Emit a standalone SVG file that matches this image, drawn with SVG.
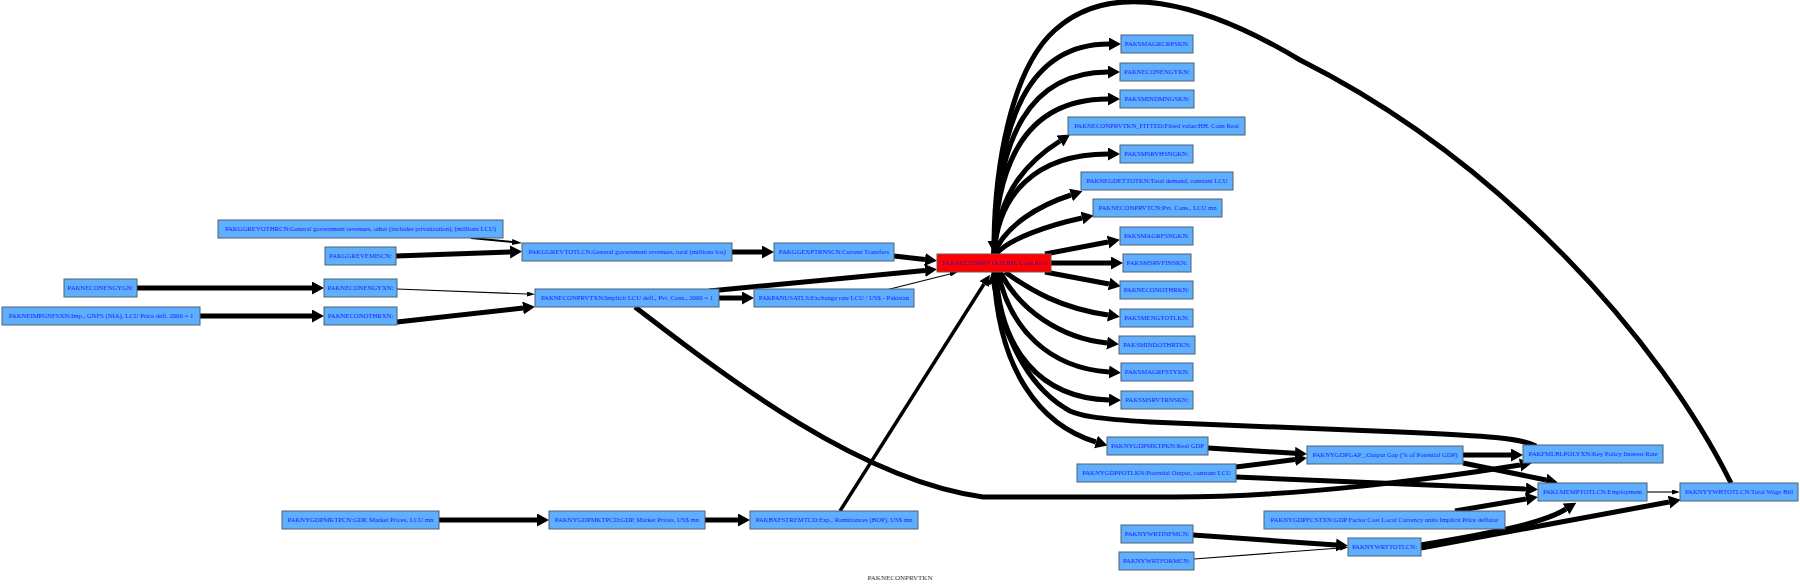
<svg xmlns="http://www.w3.org/2000/svg" width="1800" height="585" viewBox="0 0 1800 585">
<style>
.n rect{fill:#5fafff;stroke:#4f6070;stroke-width:1}
.hub rect{fill:#ff0000;stroke:#6a5a5a;stroke-width:1}
.n text,.hub text{font-family:"Liberation Serif","Times New Roman",serif;font-size:6.7px;fill:#1a1aff;text-anchor:middle}
.hub text{fill:#3a1ab0}
.e path{fill:none;stroke:#000;stroke-linecap:butt}
.k{stroke-width:5}
.m{stroke-width:2}
.b{stroke-width:3.5}
.t{stroke-width:1.1}
.lbl{font-family:"Liberation Serif","Times New Roman",serif;font-size:7px;fill:#333;text-anchor:middle}
</style>
<defs>
<marker id="ah" markerUnits="userSpaceOnUse" markerWidth="14" markerHeight="14" refX="0" refY="6.5" orient="auto"><path d="M0,0 L12,6.5 L0,13 z" fill="#000"/></marker>
<marker id="ab" markerUnits="userSpaceOnUse" markerWidth="13" markerHeight="12" refX="0" refY="5.5" orient="auto"><path d="M0,0 L11,5.5 L0,11 z" fill="#000"/></marker>
<marker id="am" markerUnits="userSpaceOnUse" markerWidth="12" markerHeight="8" refX="0" refY="3" orient="auto"><path d="M0,0 L10,3 L0,6 z" fill="#000"/></marker>
<marker id="at" markerUnits="userSpaceOnUse" markerWidth="10" markerHeight="7" refX="0" refY="2.5" orient="auto"><path d="M0,0 L8,2.5 L0,5 z" fill="#000"/></marker>
</defs>
<rect width="1800" height="585" fill="#fff"/>
<g id="edges" class="e">
<path class="m" d="M471,238 L512,242" marker-end="url(#am)"/>
<path class="k" d="M396,256 L510,252" marker-end="url(#ah)"/>
<path class="k" d="M137,288 L312,288" marker-end="url(#ah)"/>
<path class="t" d="M397,289 L527,294" marker-end="url(#at)"/>
<path class="k" d="M200,316 L312,316" marker-end="url(#ah)"/>
<path class="k" d="M397,322 L523,308" marker-end="url(#ah)"/>
<path class="k" d="M732,252 L762,252" marker-end="url(#ah)"/>
<path class="k" d="M894,256 L925,259.5" marker-end="url(#ah)"/>
<path class="k" d="M709,291 L925,270.5" marker-end="url(#ah)"/>
<path class="k" d="M719,298 L742,298" marker-end="url(#ah)"/>
<path class="t" d="M886,290 L950,274" marker-end="url(#at)"/>
<path class="k" d="M635,307 C730,380 860,480 983,497 L1174,497 C1300,497 1440,478 1520,465" marker-end="url(#ah)"/>
<path class="k" d="M439,520 L537,520" marker-end="url(#ah)"/>
<path class="k" d="M704,520 L738,520" marker-end="url(#ah)"/>
<path class="b" d="M840,511 L984,284" marker-end="url(#ab)"/>
<path class="k" d="M994,254 C996,117 1030,44 1109,44" marker-end="url(#ah)"/>
<path class="k" d="M994,254 C996,136 1030,72 1108,72" marker-end="url(#ah)"/>
<path class="k" d="M994,254 C996,153 1032,99 1108,99" marker-end="url(#ah)"/>
<path class="k" d="M994,254 C998,190 1030,160 1060,141" marker-end="url(#ah)"/>
<path class="k" d="M994,254 C998,195 1035,154 1108,154" marker-end="url(#ah)"/>
<path class="k" d="M994,254 C1005,225 1040,205 1071,195" marker-end="url(#ah)"/>
<path class="k" d="M996,254 C1010,238 1050,225 1082,218" marker-end="url(#ah)"/>
<path class="k" d="M1045,254 L1108,242" marker-end="url(#ah)"/>
<path class="k" d="M1051,263 L1111,263" marker-end="url(#ah)"/>
<path class="k" d="M1045,272 L1109,284" marker-end="url(#ah)"/>
<path class="k" d="M1005,272 C1030,290 1060,308 1108,315" marker-end="url(#ah)"/>
<path class="k" d="M1000,272 C1020,310 1060,338 1107,343" marker-end="url(#ah)"/>
<path class="k" d="M998,272 C1010,330 1050,368 1109,372" marker-end="url(#ah)"/>
<path class="k" d="M996,272 C1000,350 1040,398 1109,400" marker-end="url(#ah)"/>
<path class="k" d="M994,272 C998,370 1040,425 1096,442" marker-end="url(#ah)"/>
<path class="k" d="M1536,446 C1520,438 1490,436 1400,432 L1150,422 C1100,419 1075,416 1065,408 C1020,380 1000,320 994,284" marker-end="url(#ah)"/>
<path class="k" d="M1731,483 C1660,340 1500,160 1300,60 C1200,0 1110,-20 1055,30 C1010,70 995,170 994,241" marker-end="url(#ah)"/>
<path class="k" d="M1236,467 L1295,459.5" marker-end="url(#ah)"/>
<path class="k" d="M1208,448 L1295,453.3" marker-end="url(#ah)"/>
<path class="k" d="M1463,455 L1511,455" marker-end="url(#ah)"/>
<path class="k" d="M1463,463 L1546,480" marker-end="url(#ah)"/>
<path class="k" d="M1236,477 L1526,489" marker-end="url(#ah)"/>
<path class="k" d="M1455,511 L1526,499" marker-end="url(#ah)"/>
<path class="k" d="M1421,545 C1480,535 1540,525 1566,509" marker-end="url(#ah)"/>
<path class="k" d="M1421,548 L1669,502" marker-end="url(#ah)"/>
<path class="t" d="M1647,492 L1672,492" marker-end="url(#at)"/>
<path class="k" d="M1193,535 L1336,545" marker-end="url(#ah)"/>
<path class="t" d="M1194,559 L1340,548" marker-end="url(#at)"/>
</g>
<g id="PAKGGREVOTHRCN" class="n"><rect x="218" y="220" width="285" height="18"/><text x="360.5" y="231.4">PAKGGREVOTHRCN:General government revenues, other (includes privatization), (millions LCU)</text></g>
<g id="PAKGGREVEMISCN" class="n"><rect x="325" y="247" width="71" height="18"/><text x="360.5" y="258.4">PAKGGREVEMISCN:</text></g>
<g id="PAKNECONENGYGN" class="n"><rect x="64" y="279" width="73" height="18"/><text x="100.5" y="290.4">PAKNECONENGYGN:</text></g>
<g id="PAKNECONENGYXN" class="n"><rect x="324" y="279" width="73" height="18"/><text x="360.5" y="290.4">PAKNECONENGYXN:</text></g>
<g id="PAKNEIMPGNFSXN" class="n"><rect x="2" y="307" width="198" height="18"/><text x="101" y="318.4">PAKNEIMPGNFSXN:Imp., GNFS (NIA), LCU Price defl. 2000 = 1</text></g>
<g id="PAKNECONOTHRXN" class="n"><rect x="324" y="307" width="73" height="18"/><text x="360.5" y="318.4">PAKNECONOTHRXN:</text></g>
<g id="PAKGGREVTOTLCN" class="n"><rect x="522" y="243" width="210" height="18"/><text x="627" y="254.4">PAKGGREVTOTLCN:General government revenues, total (millions lcu)</text></g>
<g id="PAKGGEXPTRNSCN" class="n"><rect x="774" y="243" width="120" height="18"/><text x="834" y="254.4">PAKGGEXPTRNSCN:Current Transfers</text></g>
<g id="PAKNECONPRVTKN" class="hub"><rect x="937" y="254" width="114" height="18"/><text x="994" y="265.4">PAKNECONPRVTKN:HH. Cons Real</text></g>
<g id="PAKNECONPRVTXN" class="n"><rect x="535" y="289" width="184" height="18"/><text x="627" y="300.4">PAKNECONPRVTXN:Implicit LCU defl., Pvt. Cons., 2000 = 1</text></g>
<g id="PAKPANUSATLS" class="n"><rect x="754" y="289" width="160" height="18"/><text x="834" y="300.4">PAKPANUSATLS:Exchange rate LCU / US$ - Pakistan</text></g>
<g id="PAKNYGDPMKTPCN" class="n"><rect x="282" y="511" width="157" height="18"/><text x="360.5" y="522.4">PAKNYGDPMKTPCN:GDP, Market Prices, LCU mn</text></g>
<g id="PAKNYGDPMKTPCD" class="n"><rect x="549" y="511" width="156" height="18"/><text x="627" y="522.4">PAKNYGDPMKTPCD:GDP, Market Prices, US$ mn</text></g>
<g id="PAKBXFSTREMTCD" class="n"><rect x="750" y="511" width="168" height="18"/><text x="834" y="522.4">PAKBXFSTREMTCD:Exp., Remittances (BOP), US$ mn</text></g>
<g id="PAKSMAGRCRPSKN" class="n"><rect x="1121" y="35" width="72" height="18"/><text x="1157" y="46.4">PAKSMAGRCRPSKN:</text></g>
<g id="PAKNECONENGYKN" class="n"><rect x="1120" y="63" width="74" height="18"/><text x="1157" y="74.4">PAKNECONENGYKN:</text></g>
<g id="PAKSMINDMNGSKN" class="n"><rect x="1120" y="90" width="74" height="18"/><text x="1157" y="101.4">PAKSMINDMNGSKN:</text></g>
<g id="PAKNECONPRVTKN_FITTED" class="n"><rect x="1068" y="117" width="177" height="18"/><text x="1156.5" y="128.4">PAKNECONPRVTKN_FITTED:Fitted  value:HH. Cons Real</text></g>
<g id="PAKSMSRVHSNGKN" class="n"><rect x="1120" y="145" width="73" height="18"/><text x="1156.5" y="156.4">PAKSMSRVHSNGKN:</text></g>
<g id="PAKNEGDETTOTKN" class="n"><rect x="1081" y="172" width="152" height="18"/><text x="1157" y="183.4">PAKNEGDETTOTKN:Total demand, constant LCU</text></g>
<g id="PAKNECONPRVTCN" class="n"><rect x="1093" y="199" width="129" height="18"/><text x="1157.5" y="210.4">PAKNECONPRVTCN:Pvt. Cons., LCU mn</text></g>
<g id="PAKSMAGRFSNGKN" class="n"><rect x="1120" y="227" width="73" height="18"/><text x="1156.5" y="238.4">PAKSMAGRFSNGKN:</text></g>
<g id="PAKSMSRVFINSKN" class="n"><rect x="1123" y="254" width="68" height="18"/><text x="1157" y="265.4">PAKSMSRVFINSKN:</text></g>
<g id="PAKNECONOTHRKN" class="n"><rect x="1120" y="281" width="73" height="18"/><text x="1156.5" y="292.4">PAKNECONOTHRKN:</text></g>
<g id="PAKSMENGTOTLKN" class="n"><rect x="1120" y="309" width="73" height="18"/><text x="1156.5" y="320.4">PAKSMENGTOTLKN:</text></g>
<g id="PAKSMINDOTHRTKN" class="n"><rect x="1119" y="336" width="76" height="18"/><text x="1157" y="347.4">PAKSMINDOTHRTKN:</text></g>
<g id="PAKSMAGRFSTYKN" class="n"><rect x="1121" y="363" width="72" height="18"/><text x="1157" y="374.4">PAKSMAGRFSTYKN:</text></g>
<g id="PAKSMSRVTRNSKN" class="n"><rect x="1121" y="391" width="72" height="18"/><text x="1157" y="402.4">PAKSMSRVTRNSKN:</text></g>
<g id="PAKNYGDPMKTPKN" class="n"><rect x="1107" y="437" width="101" height="18"/><text x="1157.5" y="448.4">PAKNYGDPMKTPKN:Real GDP</text></g>
<g id="PAKNYGDPPOTLKN" class="n"><rect x="1077" y="464" width="159" height="18"/><text x="1156.5" y="475.4">PAKNYGDPPOTLKN:Potential Output, constant LCU</text></g>
<g id="PAKNYGDPGAP_" class="n"><rect x="1307" y="446" width="156" height="18"/><text x="1385" y="457.4">PAKNYGDPGAP_:Output Gap (% of Potential GDP)</text></g>
<g id="PAKNYGDPFCSTXN" class="n"><rect x="1264" y="511" width="241" height="18"/><text x="1384.5" y="522.4">PAKNYGDPFCSTXN:GDP Factor Cost Local Currency units Implicit Price deflator</text></g>
<g id="PAKNYWRTINFMCN" class="n"><rect x="1121" y="525" width="72" height="18"/><text x="1157" y="536.4">PAKNYWRTINFMCN:</text></g>
<g id="PAKNYWRTFORMCN" class="n"><rect x="1119" y="552" width="75" height="18"/><text x="1156.5" y="563.4">PAKNYWRTFORMCN:</text></g>
<g id="PAKNYWRTTOTLCN" class="n"><rect x="1348" y="538" width="73" height="18"/><text x="1384.5" y="549.4">PAKNYWRTTOTLCN:</text></g>
<g id="PAKFMLBLPOLYXN" class="n"><rect x="1523" y="445" width="140" height="18"/><text x="1593" y="456.4">PAKFMLBLPOLYXN:Key Policy Interest Rate</text></g>
<g id="PAKLMEMPTOTLCN" class="n"><rect x="1538" y="483" width="109" height="18"/><text x="1592.5" y="494.4">PAKLMEMPTOTLCN:Employment</text></g>
<g id="PAKNYYWBTOTLCN" class="n"><rect x="1680" y="483" width="118" height="18"/><text x="1739" y="494.4">PAKNYYWBTOTLCN:Total Wage Bill</text></g>
<text class="lbl" x="900" y="580">PAKNECONPRVTKN</text>
</svg>
